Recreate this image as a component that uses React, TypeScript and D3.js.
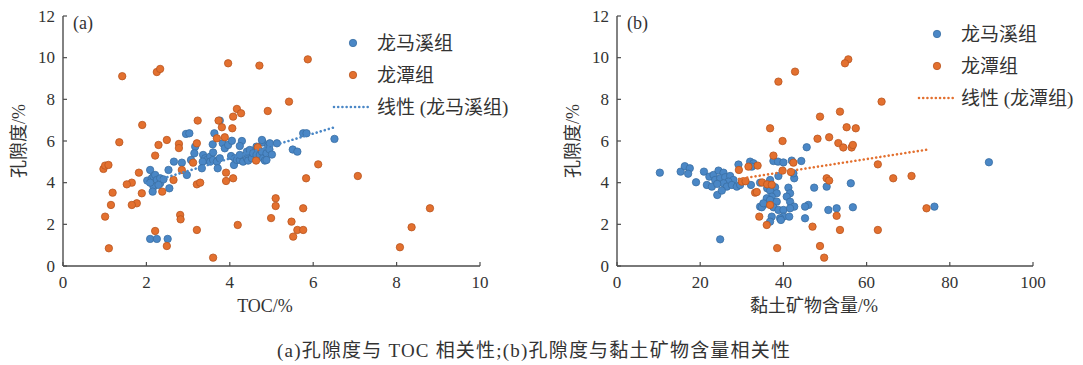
import React from "react";
import * as d3 from "d3";

// Axis ticks
const porosityTicks = [0, 2, 4, 6, 8, 10, 12];
const tocTicks = [0, 2, 4, 6, 8, 10];
const clayTicks = [0, 20, 40, 60, 80, 100];

const seriesLongmaxi = "龙马溪组";
const seriesLongtan = "龙潭组";

// (a) TOC (%) vs porosity (%) — Longmaxi Formation
const tocLongmaxi: [number, number][] = [
  [2.09, 1.30], [2.25, 1.30], [2.51, 1.30],
  [2.09, 4.61], [2.02, 4.10], [2.13, 4.21], [2.17, 4.29], [2.21, 4.37], [2.25, 4.13],
  [2.33, 4.21], [2.33, 3.97], [2.41, 4.16], [2.17, 3.81], [2.15, 3.57], [2.29, 3.89],
  [2.09, 4.00], [2.55, 3.73], [2.53, 4.61], [2.66, 5.01], [2.85, 4.96], [2.97, 4.37],
  [3.07, 5.09], [2.95, 6.34], [3.03, 6.37], [3.17, 5.73], [3.15, 5.41], [3.36, 5.33],
  [3.41, 5.17], [3.45, 5.09], [3.53, 5.25], [3.53, 5.01], [3.60, 5.09], [3.69, 5.01],
  [3.76, 5.17], [3.35, 5.01], [3.33, 4.69], [3.71, 4.69], [3.59, 5.84], [3.60, 5.45],
  [3.63, 6.37], [3.76, 6.98], [3.83, 5.89], [3.88, 5.65], [3.96, 5.81], [4.05, 6.01],
  [4.29, 6.00], [4.10, 4.85], [4.03, 5.28], [4.12, 5.17], [4.17, 5.09], [4.24, 5.09],
  [4.24, 5.76], [4.24, 5.33], [4.32, 5.01], [4.41, 5.17], [4.42, 5.38], [4.41, 5.49],
  [4.44, 5.06], [4.48, 5.57], [4.53, 5.17], [4.56, 5.41], [4.64, 5.33], [4.64, 5.73],
  [4.72, 5.33], [4.77, 5.49], [4.79, 5.93], [4.80, 5.17], [4.84, 5.06], [4.88, 5.41],
  [4.88, 5.09], [4.92, 5.77], [4.95, 5.60], [5.01, 5.35], [4.96, 5.89], [5.13, 5.89],
  [4.77, 6.05], [5.51, 5.59], [5.62, 5.49], [5.76, 6.37], [5.84, 6.37], [6.51, 6.10],
];

// (a) TOC (%) vs porosity (%) — Longtan Formation
const tocLongtan: [number, number][] = [
  [1.42, 9.11], [2.25, 9.31], [2.33, 9.46], [3.96, 9.73], [4.71, 9.62], [5.87, 9.92],
  [1.90, 6.77], [3.23, 6.98], [3.73, 6.98], [3.81, 6.66], [4.06, 6.61], [4.17, 7.54],
  [4.08, 7.17], [4.27, 7.33], [4.91, 7.44], [5.42, 7.89], [2.49, 6.05], [3.69, 6.13],
  [3.88, 6.18], [2.29, 5.81], [2.78, 5.86], [2.78, 5.66], [2.21, 5.30], [3.21, 5.89],
  [3.12, 4.96], [4.63, 5.06], [4.67, 5.70], [6.12, 4.88], [5.83, 4.21], [1.82, 4.48],
  [1.65, 4.00], [1.53, 3.92], [2.65, 4.13], [2.85, 4.61], [3.91, 4.48], [3.91, 4.08],
  [4.08, 4.21], [3.21, 3.92], [3.29, 4.00], [1.89, 3.49], [2.38, 3.57], [1.19, 3.52],
  [1.77, 3.01], [1.65, 2.93], [1.15, 2.93], [1.01, 2.37], [5.10, 3.25], [5.10, 2.88],
  [5.76, 2.77], [2.81, 2.45], [2.82, 2.24], [4.99, 2.30], [5.48, 2.13], [5.62, 1.73],
  [5.76, 1.73], [5.52, 1.41], [3.21, 1.73], [2.21, 1.68], [2.49, 0.96], [4.19, 1.97],
  [3.60, 0.40], [1.10, 0.85], [0.97, 4.66], [1.01, 4.82], [1.09, 4.85], [1.35, 5.94],
  [8.80, 2.77], [8.36, 1.86], [8.08, 0.90], [7.07, 4.32],
];

// (b) clay mineral content (%) vs porosity (%) — Longmaxi Formation
const clayLongmaxi: [number, number][] = [
  [10.3, 4.48], [15.3, 4.53], [16.3, 4.79], [17.5, 4.69], [17.1, 4.43], [19.0, 4.02],
  [20.9, 4.53], [22.2, 4.29], [21.6, 3.89], [22.8, 3.81], [24.1, 3.41], [23.2, 4.37],
  [24.4, 4.58], [25.6, 4.48], [23.6, 4.13], [24.8, 4.21], [26.0, 4.26], [27.2, 4.32],
  [28.0, 4.13], [26.8, 4.05], [25.6, 3.97], [24.1, 3.94], [26.4, 3.81], [27.6, 3.89],
  [28.8, 3.81], [29.6, 3.89], [25.2, 3.62], [29.2, 4.87], [32.0, 5.01], [32.8, 4.93],
  [32.4, 4.77], [32.2, 3.89], [34.4, 4.00], [37.6, 5.04], [38.7, 5.01], [40.0, 4.97],
  [42.0, 5.06], [44.3, 5.04], [45.6, 5.70], [47.4, 3.76], [42.6, 4.21], [38.8, 4.32],
  [36.8, 4.13], [42.4, 4.45], [38.0, 3.78], [36.1, 3.73], [36.8, 3.62], [38.4, 3.49],
  [37.2, 3.33], [36.0, 3.25], [36.8, 3.17], [38.4, 3.09], [41.2, 3.76], [41.6, 3.49],
  [40.8, 3.33], [41.6, 3.09], [42.6, 2.85], [35.2, 2.93], [34.4, 2.85], [37.6, 2.82],
  [38.8, 2.69], [40.0, 2.69], [41.6, 2.77], [37.2, 2.37], [40.0, 2.37], [39.2, 2.29],
  [41.4, 2.37], [36.8, 2.13], [45.2, 2.29], [46.0, 2.93], [45.2, 2.85], [50.4, 3.81],
  [50.8, 2.69], [52.8, 2.77], [56.2, 3.97], [56.7, 2.82], [34.8, 2.82], [35.2, 3.01],
  [24.8, 1.28], [89.4, 4.98], [76.3, 2.85], [39.4, 2.21],
];

// (b) clay mineral content (%) vs porosity (%) — Longtan Formation
const clayLongtan: [number, number][] = [
  [38.8, 8.85], [42.8, 9.33], [55.6, 9.92], [54.8, 9.73], [63.6, 7.89], [53.6, 7.41],
  [48.8, 7.17], [36.8, 6.61], [55.2, 6.66], [57.4, 6.61], [39.8, 6.00], [48.2, 6.11],
  [51.0, 6.18], [53.2, 5.90], [54.4, 5.69], [56.4, 5.69], [56.7, 5.81], [62.7, 4.88],
  [50.4, 4.21], [51.0, 4.10], [66.4, 4.21], [70.8, 4.32], [52.8, 2.41], [74.4, 2.77],
  [53.6, 1.73], [62.7, 1.73], [48.8, 0.96], [49.8, 0.40], [37.6, 5.30], [31.6, 4.77],
  [33.8, 4.82], [29.3, 4.61], [42.4, 4.96], [39.8, 4.58], [41.8, 4.51], [30.0, 4.05],
  [30.9, 4.07], [34.9, 4.01], [36.1, 3.92], [37.2, 3.90], [33.2, 3.52], [33.6, 3.55],
  [36.8, 2.93], [34.2, 2.37], [36.0, 1.97], [47.0, 1.89], [38.5, 0.86],
];

// Linear trend lines (endpoints span each fitted series)
const tocTrendLongmaxi: [number, number][] = [[2.02, 3.98], [6.51, 6.66]];
const clayTrendLongtan: [number, number][] = [[29.3, 4.18], [74.4, 5.58]];

const BLUE = "#4a87c6";
const BLUE_EDGE = "#3a6ea3";
const ORANGE = "#e3702f";
const ORANGE_EDGE = "#b9561f";
const AXIS = "#4d4d4d";
const TEXT = "#333333";
const SERIF = "'Liberation Serif', 'Times New Roman', 'Noto Sans CJK SC', serif";

type PanelProps = {
  left: number;
  right: number;
  xDomain: [number, number];
  xTicks: number[];
  xTitle: string;
  xTitleX: number;
  tag: string;
  blue: [number, number][];
  orange: [number, number][];
  trend: [number, number][];
  trendColor: string;
  trendLabel: string;
  legendDotX: number;
  legendY: number;
  legendLineX: [number, number];
};

const TOP = 16;
const BOTTOM = 266;
const R = 3.7;

function Panel(p: PanelProps) {
  const x = d3.scaleLinear().domain(p.xDomain).range([p.left, p.right]);
  const y = d3.scaleLinear().domain([0, 12]).range([BOTTOM, TOP]);
  const line = d3
    .line<[number, number]>()
    .x((d) => x(d[0]))
    .y((d) => y(d[1]));
  const rowGap = 32;
  const textX = p.legendDotX + 24;
  return (
    <g>
      {/* axes */}
      <line x1={p.left} x2={p.left} y1={TOP} y2={BOTTOM} stroke={AXIS} strokeWidth={1.4} />
      <line x1={p.left} x2={p.right} y1={BOTTOM} y2={BOTTOM} stroke={AXIS} strokeWidth={1.4} />
      {porosityTicks.map((t) => (
        <g key={"y" + t}>
          <line x1={p.left} x2={p.left + 4} y1={y(t)} y2={y(t)} stroke={AXIS} strokeWidth={1.2} />
          <text
            x={p.left - 8}
            y={y(t)}
            textAnchor="end"
            dominantBaseline="central"
            fontFamily={SERIF}
            fontSize={17}
            fill={TEXT}
          >
            {t}
          </text>
        </g>
      ))}
      {p.xTicks.map((t) => (
        <g key={"x" + t}>
          <line x1={x(t)} x2={x(t)} y1={BOTTOM} y2={BOTTOM - 4} stroke={AXIS} strokeWidth={1.2} />
          <text x={x(t)} y={288} textAnchor="middle" fontFamily={SERIF} fontSize={17} fill={TEXT}>
            {t}
          </text>
        </g>
      ))}
      <text x={p.xTitleX} y={312} textAnchor="middle" fontFamily={SERIF} fontSize={18} fill={TEXT}>
        {p.xTitle}
      </text>
      <text
        transform={`translate(${p.left - 44},${(TOP + BOTTOM) / 2}) rotate(-90)`}
        textAnchor="middle"
        dominantBaseline="central"
        fontFamily={SERIF}
        fontSize={18}
        fill={TEXT}
      >
        孔隙度/%
      </text>
      <text x={p.left + 10} y={29} fontFamily={SERIF} fontSize={18} fill={TEXT}>
        {p.tag}
      </text>

      {/* points */}
      {p.blue.map((d, i) => (
        <circle key={"b" + i} cx={x(d[0])} cy={y(d[1])} r={R} fill={BLUE} stroke={BLUE_EDGE} strokeWidth={0.8} />
      ))}
      {p.orange.map((d, i) => (
        <circle key={"o" + i} cx={x(d[0])} cy={y(d[1])} r={R} fill={ORANGE} stroke={ORANGE_EDGE} strokeWidth={0.8} />
      ))}

      {/* linear trend */}
      <path
        d={line(p.trend) || ""}
        fill="none"
        stroke={p.trendColor}
        strokeWidth={2.6}
        strokeLinecap="round"
        strokeDasharray="0.01 4.2"
      />

      {/* legend */}
      <circle cx={p.legendDotX} cy={p.legendY} r={R} fill={BLUE} stroke={BLUE_EDGE} strokeWidth={0.8} />
      <text x={textX} y={p.legendY} dominantBaseline="central" fontFamily={SERIF} fontSize={19} fill={TEXT}>
        {seriesLongmaxi}
      </text>
      <circle cx={p.legendDotX} cy={p.legendY + rowGap} r={R} fill={ORANGE} stroke={ORANGE_EDGE} strokeWidth={0.8} />
      <text x={textX} y={p.legendY + rowGap} dominantBaseline="central" fontFamily={SERIF} fontSize={19} fill={TEXT}>
        {seriesLongtan}
      </text>
      <line
        x1={p.legendLineX[0]}
        x2={p.legendLineX[1]}
        y1={p.legendY + rowGap * 2}
        y2={p.legendY + rowGap * 2}
        stroke={p.trendColor}
        strokeWidth={2.6}
        strokeLinecap="round"
        strokeDasharray="0.01 4.2"
      />
      <text x={textX} y={p.legendY + rowGap * 2} dominantBaseline="central" fontFamily={SERIF} fontSize={19} fill={TEXT}>
        {p.trendLabel}
      </text>
    </g>
  );
}

export default function App() {
  return (
    <div style={{ position: "fixed", left: 0, top: 0, background: "#fff" }}>
      <svg width={1083} height={365} viewBox="0 0 1083 365" style={{ display: "block", background: "#fff" }}>
        <Panel
          left={63}
          right={480}
          xDomain={[0, 10]}
          xTicks={tocTicks}
          xTitle="TOC/%"
          xTitleX={265}
          tag="(a)"
          blue={tocLongmaxi}
          orange={tocLongtan}
          trend={tocTrendLongmaxi}
          trendColor={BLUE}
          trendLabel={`线性 (${seriesLongmaxi})`}
          legendDotX={353}
          legendY={43}
          legendLineX={[334, 369]}
        />
        <Panel
          left={617}
          right={1033}
          xDomain={[0, 100]}
          xTicks={clayTicks}
          xTitle="黏土矿物含量/%"
          xTitleX={814}
          tag="(b)"
          blue={clayLongmaxi}
          orange={clayLongtan}
          trend={clayTrendLongtan}
          trendColor={ORANGE}
          trendLabel={`线性 (${seriesLongtan})`}
          legendDotX={937}
          legendY={34}
          legendLineX={[919, 955]}
        />
        <text
          x={277}
          y={357}
          fontFamily={SERIF}
          fontSize={19}
          fill={TEXT}
          textLength={513}
          lengthAdjust="spacing"
        >
          (a)孔隙度与 TOC 相关性;(b)孔隙度与黏土矿物含量相关性
        </text>
      </svg>
    </div>
  );
}
